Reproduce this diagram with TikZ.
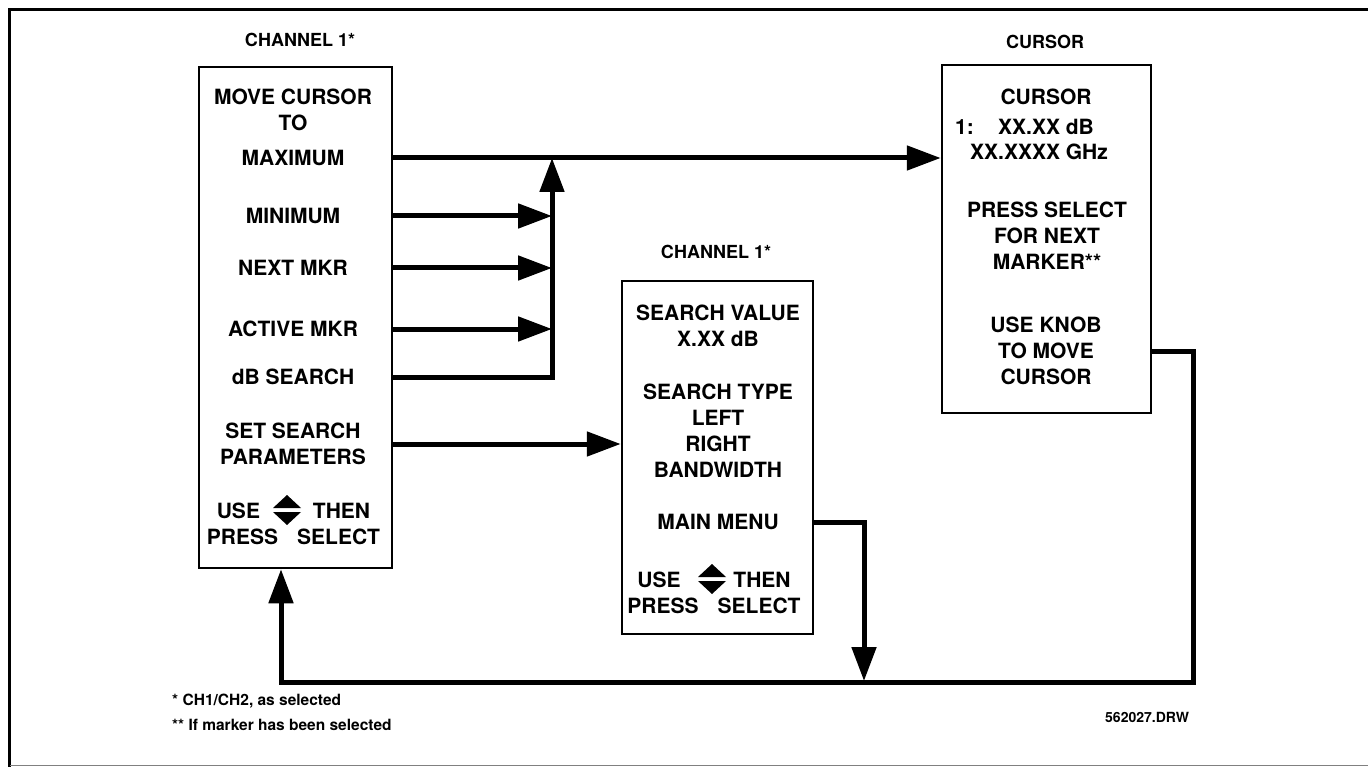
\documentclass[tikz,border=0pt]{standalone}
\usepackage{fontspec}
\setmainfont{TeX Gyre Heros}
\usepackage{tikz}
\usetikzlibrary{arrows.meta}
\usetikzlibrary{calc}

\tikzset{
	menubox/.style={draw, line width=2.5pt, inner sep=0pt},
	lbl/.style={font=\fontsize{21}{26}\selectfont\bfseries, align=center, inner sep=0pt},
	ttl/.style={font=\fontsize{18}{22}\selectfont\bfseries, inner sep=0pt},
	note/.style={font=\fontsize{15.5}{24}\selectfont\bfseries, anchor=west, inner sep=0pt},
	flow/.style={line width=5pt, -{Triangle[length=34pt,width=24pt]}},
}

\begin{document}
\begin{tikzpicture}[x=1pt,y=-1pt]
	\useasboundingbox (0,0) rectangle (1368,767);
	\draw[line width=3.5pt] (1368,9.5) -- (9.5,9.5) -- (9.5,767);
	\draw[line width=1.5pt, gray] (9.5,765.5) -- (1368,765.5);

	\node[menubox, minimum width=193pt, minimum height=501pt] (ch1) at (295.5,317.5) {};
	\node[menubox, minimum width=191pt, minimum height=353pt] (srch) at (717.5,457.5) {};
	\node[menubox, minimum width=209pt, minimum height=348pt] (cur) at (1046.5,239) {};

	\node[ttl] (ttlch) at (300,40) {CHANNEL 1*};
	\node[ttl] (ttlsr) at (716,252) {CHANNEL 1*};
	\node[ttl] (ttlcu) at (1045,42) {CURSOR};

	\node[lbl] (mvc) at (293,109.5) {MOVE CURSOR\\TO};
	\node[lbl] (max) at (293,158) {MAXIMUM};
	\node[lbl] (min) at (293,216) {MINIMUM};
	\node[lbl] (nxt) at (293,268) {NEXT MKR};
	\node[lbl] (act) at (293,329) {ACTIVE MKR};
	\node[lbl] (dbs) at (293,377) {dB SEARCH};
	\node[lbl] (ssp) at (293,444) {SET SEARCH\\PARAMETERS};
	\node[lbl] (sel1) at (293.5,524) {USE\hspace{53pt}THEN\\PRESS\hspace{19pt}SELECT};

	\node[lbl] (sval) at (718,326) {SEARCH VALUE\\X.XX dB};
	\node[lbl] (styp) at (718,431) {SEARCH TYPE\\LEFT\\RIGHT\\BANDWIDTH};
	\node[lbl] (mmenu) at (718,522) {MAIN MENU};
	\node[lbl] (sel2) at (714,593) {USE\hspace{53pt}THEN\\PRESS\hspace{19pt}SELECT};

	\node[lbl] (cuhd) at (1046,97) {CURSOR};
	\node[lbl, anchor=west] (cone) at (955,127) {1:};
	\node[lbl, anchor=west] (cdb) at (998,127) {XX.XX dB};
	\node[lbl] (cghz) at (1039,152) {XX.XXXX GHz};
	\node[lbl] (nxtm) at (1047,236) {PRESS SELECT\\FOR NEXT\\MARKER**};
	\node[lbl] (knob) at (1046,351) {USE KNOB\\TO MOVE\\CURSOR};

	\foreach \cx/\cy in {287/510, 712/579} {
		\fill (\cx,\cy-15) -- (\cx+14,\cy-2) -- (\cx-14,\cy-2) -- cycle;
		\fill (\cx,\cy+15) -- (\cx+14,\cy+2) -- (\cx-14,\cy+2) -- cycle;
	}

	\coordinate (jn) at (552,158);
	\coordinate (mc) at (864,681);
	\coordinate (rc) at (1193,682);
	\coordinate (lc) at (281,682);

	\draw[flow] (max -| ch1.east) -- (max -| cur.west);
	\foreach \it in {min,nxt,act}
		\draw[flow] (\it -| ch1.east) -- (\it -| jn);
	\draw[flow] (dbs -| ch1.east) -| (jn);
	\draw[flow] (ssp -| ch1.east) -- (ssp -| srch.west);
	\draw[flow] (mmenu -| srch.east) -| (mc);
	\draw[flow] (knob -| cur.east) -| (rc) -- (lc) -- (lc |- ch1.south);

	\node[note] (fn1) at (172,701) {* CH1/CH2, as selected};
	\node[note] (fn2) at (172,725) {** If marker has been selected};
	\node[note, font=\fontsize{14}{16}\selectfont\bfseries] (drw) at (1105,717) {562027.DRW};
\end{tikzpicture}
\end{document}
